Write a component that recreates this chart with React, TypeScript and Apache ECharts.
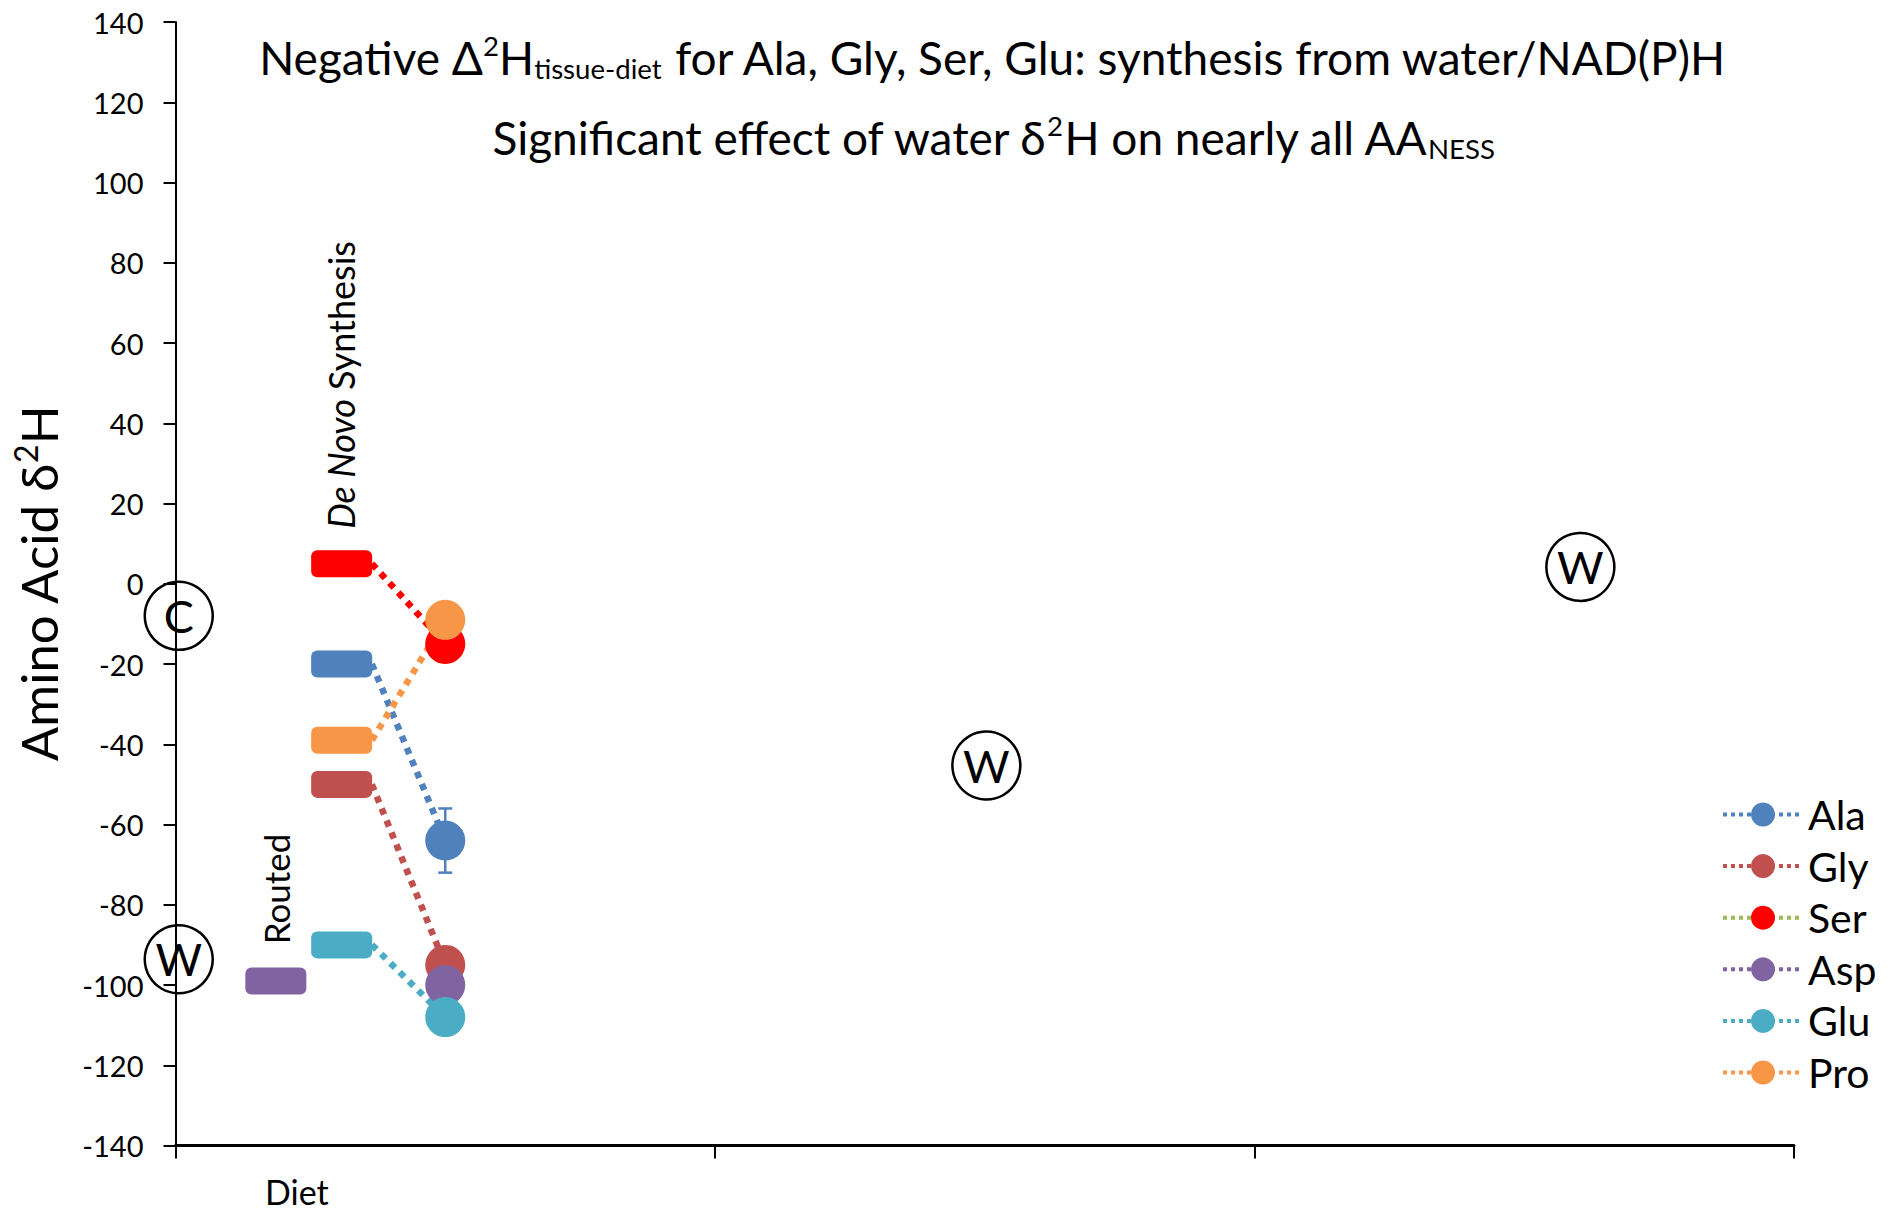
import React, { useEffect, useRef } from 'react';
import * as echarts from 'echarts';

// Amino acids and their colours
const aminoAcids = ['Ala', 'Gly', 'Ser', 'Asp', 'Glu', 'Pro'];
const aaColors = ['#4F81BD', '#C0504D', '#FF0000', '#8064A2', '#4BACC6', '#F79646'];
const legendLineColors = ['#4F81BD', '#C0504D', '#9BBB59', '#8064A2', '#4BACC6', '#F79646'];

// Diet δ2H (bars) and tissue δ2H (circles)
const dietValues = [-20, -50, 5, -99, -90, -39];
const tissueValues = [-64, -95, -15, -100, -108, -9];
// Pathway of each amino acid in the diet column
const dietPathway = ['denovo', 'denovo', 'denovo', 'routed', 'denovo', 'denovo'];
// Ala tissue error bar (low, high)
const alaErrorLow = -72;
const alaErrorHigh = -56;

// Positions along the x axis (in category units, 0–3)
const ROUTED_X = 0.186;
const DENOVO_X = 0.308;
const CONNECTOR_START_X = 0.364;
const TISSUE_X = 0.5;

// Circled source markers: C = carbon, W = water
const markerLabels = ['C', 'W', 'W', 'W'];
const markerX = [0.006, 0.006, 1.503, 2.604];
const markerY = [-8, -93.6, -45.3, 4.2];

// Axis ticks
const yMin = -140;
const yMax = 140;
const yStep = 20;
const xCategories = ['Diet', '', ''];

const FONT = 'Lato';

export default function App() {
  const ref = useRef<HTMLDivElement>(null);

  useEffect(() => {
    if (!ref.current) return;
    const chart = echarts.init(ref.current, null, { renderer: 'svg' });

    const gridLeft = 175.5;
    const gridRight = 104;
    const gridTop = 22;
    const gridBottom = 66.5;

    const lineSeries = aminoAcids.map((name, i) => {
      const data: any[] = [];
      if (dietPathway[i] === 'denovo') {
        data.push({ value: [CONNECTOR_START_X, dietValues[i]], symbol: 'none' });
      }
      data.push({ value: [TISSUE_X, tissueValues[i]] });
      return {
        name,
        type: 'line',
        data,
        symbol: 'circle',
        symbolSize: 40,
        z: 3,
        itemStyle: { color: aaColors[i], opacity: 1 },
        lineStyle: { color: aaColors[i], width: 6.5, type: 'dotted' },
        emphasis: { disabled: true },
      };
    });

    // Diet values drawn as rounded bars of fixed pixel size
    const barSeries = {
      name: 'diet',
      type: 'custom',
      z: 2,
      data: aminoAcids.map((name, i) => [
        dietPathway[i] === 'routed' ? ROUTED_X : DENOVO_X,
        dietValues[i],
        i,
      ]),
      renderItem: (params: any, api: any) => {
        const c = api.coord([api.value(0), api.value(1)]);
        const w = 61;
        const h = 27;
        return {
          type: 'rect',
          shape: { x: c[0] - w / 2, y: c[1] - h / 2, width: w, height: h, r: 6 },
          style: { fill: aaColors[api.value(2)] },
        };
      },
    };

    const errorSeries = {
      name: 'error',
      type: 'custom',
      z: 2,
      data: [[TISSUE_X, alaErrorLow, alaErrorHigh]],
      renderItem: (params: any, api: any) => {
        const x = api.value(0);
        const lo = api.coord([x, api.value(1)]);
        const hi = api.coord([x, api.value(2)]);
        const hw = 7;
        const style = { stroke: aaColors[0], lineWidth: 2.5 };
        return {
          type: 'group',
          children: [
            { type: 'line', shape: { x1: hi[0], y1: hi[1], x2: lo[0], y2: lo[1] }, style },
            { type: 'line', shape: { x1: hi[0] - hw, y1: hi[1], x2: hi[0] + hw, y2: hi[1] }, style },
            { type: 'line', shape: { x1: lo[0] - hw, y1: lo[1], x2: lo[0] + hw, y2: lo[1] }, style },
          ],
        };
      },
    };

    const markerSeries = {
      name: 'markers',
      type: 'scatter',
      symbol: 'circle',
      symbolSize: 68,
      z: 4,
      itemStyle: { color: 'rgba(0,0,0,0)', borderColor: '#000', borderWidth: 2.5, opacity: 1 },
      label: {
        show: true,
        position: 'inside',
        formatter: '{b}',
        fontFamily: FONT,
        fontSize: 45,
        color: '#000',
      },
      emphasis: { disabled: true },
      data: markerLabels.map((l, i) => ({ name: l, value: [markerX[i], markerY[i]] })),
    };

    const titleRich = (size: number) => ({
      t: { fontSize: size, fontFamily: FONT, fill: '#000', lineHeight: size * 1.12 },
      sup: { fontSize: size * 0.6, fontFamily: FONT, fill: '#000', verticalAlign: 'top' },
      sub: { fontSize: size * 0.6, fontFamily: FONT, fill: '#000', verticalAlign: 'bottom' },
    });

    const xPixel = (v: number) => gridLeft + (v / 3) * (1898 - gridLeft - gridRight);

    chart.setOption({
      animation: false,
      backgroundColor: '#fff',
      grid: {
        left: gridLeft,
        right: gridRight,
        top: gridTop,
        bottom: gridBottom,
        containLabel: false,
        outerBoundsMode: 'none',
      },
      xAxis: {
        type: 'value',
        min: 0,
        max: xCategories.length,
        interval: 1,
        axisLine: { show: true, onZero: false, lineStyle: { color: '#000', width: 3 } },
        axisTick: { show: true, length: 13, lineStyle: { color: '#000', width: 2 } },
        axisLabel: { show: false },
        splitLine: { show: false },
      },
      yAxis: {
        type: 'value',
        min: yMin,
        max: yMax,
        interval: yStep,
        name: '{a|Amino Acid δ}{sup|2}{a|H}',
        nameLocation: 'middle',
        nameRotate: 90,
        nameGap: 108,
        nameTextStyle: {
          rich: {
            a: { fontSize: 51, fontFamily: FONT, color: '#000', lineHeight: 58 },
            sup: { fontSize: 32, fontFamily: FONT, color: '#000', verticalAlign: 'top' },
          },
        },
        axisLine: { show: true, lineStyle: { color: '#000', width: 2 } },
        axisTick: { show: true, length: 12, lineStyle: { color: '#000', width: 2 } },
        axisLabel: { fontFamily: FONT, fontSize: 29, color: '#000', margin: 32 },
        splitLine: { show: false },
      },
      legend: {
        orient: 'vertical',
        left: 1716,
        top: 789,
        itemWidth: 80,
        itemHeight: 30,
        itemGap: 10.6,
        selectedMode: false,
        textStyle: { fontFamily: FONT, fontSize: 41, color: '#000' },
        lineStyle: { width: 4, type: 'dotted' },
        data: aminoAcids.map((name, i) => ({
          name,
          lineStyle: { color: legendLineColors[i], width: 4, type: 'dotted' },
        })),
      },
      graphic: [
        {
          type: 'text',
          x: 993,
          y: 57,
          style: {
            text: '{t|Negative Δ}{sup|2}{t|H}{sub|tissue-diet}{t| for Ala, Gly, Ser, Glu: synthesis from water/NAD(P)H}',
            rich: titleRich(46),
            align: 'center',
            verticalAlign: 'middle',
          },
        },
        {
          type: 'text',
          x: 993,
          y: 137,
          style: {
            text: '{t|Significant effect of water δ}{sup|2}{t|H on nearly all AA}{sub|NESS}',
            rich: titleRich(46),
            align: 'center',
            verticalAlign: 'middle',
          },
        },
        {
          type: 'text',
          x: 341,
          y: 385,
          rotation: Math.PI / 2,
          style: {
            text: '{i|De Novo}{n| Synthesis}',
            rich: {
              i: { fontSize: 36, fontFamily: FONT, fontStyle: 'italic', fill: '#000' },
              n: { fontSize: 36, fontFamily: FONT, fill: '#000' },
            },
            align: 'center',
            verticalAlign: 'middle',
          },
        },
        {
          type: 'text',
          x: 276,
          y: 889,
          rotation: Math.PI / 2,
          style: {
            text: 'Routed',
            fontSize: 35,
            fontFamily: FONT,
            fill: '#000',
            align: 'center',
            verticalAlign: 'middle',
          },
        },
        {
          type: 'text',
          x: xPixel(0.225),
          y: 1191,
          style: {
            text: xCategories[0],
            fontSize: 34,
            fontFamily: FONT,
            fill: '#000',
            align: 'center',
            verticalAlign: 'middle',
          },
        },
      ],
      series: [errorSeries, barSeries, ...lineSeries, markerSeries],
    });

    return () => chart.dispose();
  }, []);

  return (
    <div
      ref={ref}
      style={{ position: 'fixed', left: 0, top: 0, width: 1898, height: 1212, background: '#fff' }}
    />
  );
}
